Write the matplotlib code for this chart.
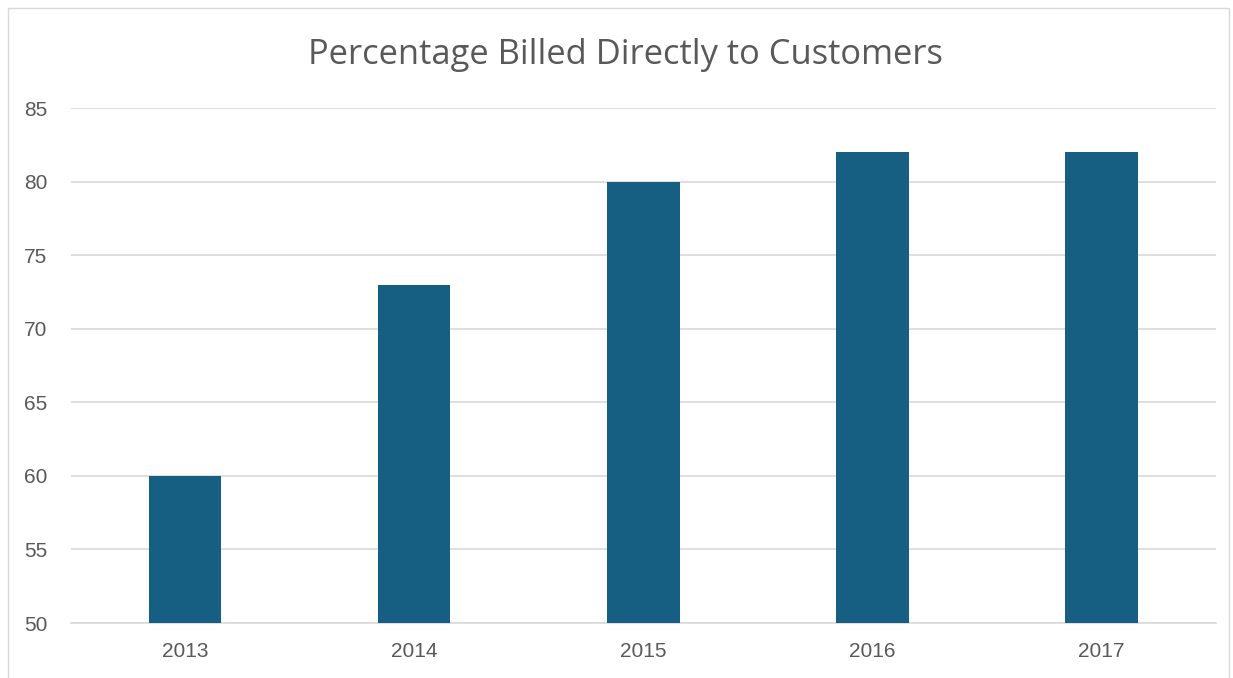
import matplotlib
matplotlib.use("Agg")
import matplotlib.pyplot as plt
from matplotlib.patches import Rectangle
import numpy as np

years = ["2013", "2014", "2015", "2016", "2017"]
percent_billed = [60, 73, 80, 82, 82]
y_ticks = [50, 55, 60, 65, 70, 75, 80, 85]

plt.rcParams['font.family'] = ['Liberation Sans', 'DejaVu Sans']

fig = plt.figure(figsize=(12.33, 6.78), dpi=100)
ax = fig.add_axes([0.0575, 0.0811, 0.9287, 0.7596])

x = np.arange(len(years))
ax.bar(x, percent_billed, width=0.315, color="#175F82", zorder=3)

ax.set_xlim(-0.5, len(years) - 0.5)
ax.set_ylim(50, 85)
ax.set_yticks(y_ticks)
ax.set_xticks(x)
ax.set_xticklabels(years)
ax.grid(axis="y", color="#D9D9D9", linewidth=1.2, zorder=0)
ax.tick_params(axis="both", length=0, labelsize=15, colors="#595959")
ax.tick_params(axis="x", pad=14)
ax.tick_params(axis="y", pad=17)
for side in ["top", "right", "left"]:
    ax.spines[side].set_visible(False)
ax.spines["bottom"].set_color("#D9D9D9")
ax.spines["bottom"].set_linewidth(1.2)

fig.text(0.507, 0.919, "Percentage Billed Directly to Customers", ha="center", va="center",
         fontsize=24.8, color="#595959", family=["Open Sans", "DejaVu Sans"])

# chart frame
fig.patches.append(Rectangle((8 / 1233, -0.01), 1 - 12 / 1233, 1 - 8 / 678 + 0.01,
                             transform=fig.transFigure, fill=False, edgecolor="#D9D9D9",
                             linewidth=1.0))

fig.savefig("out.png", dpi=100)
